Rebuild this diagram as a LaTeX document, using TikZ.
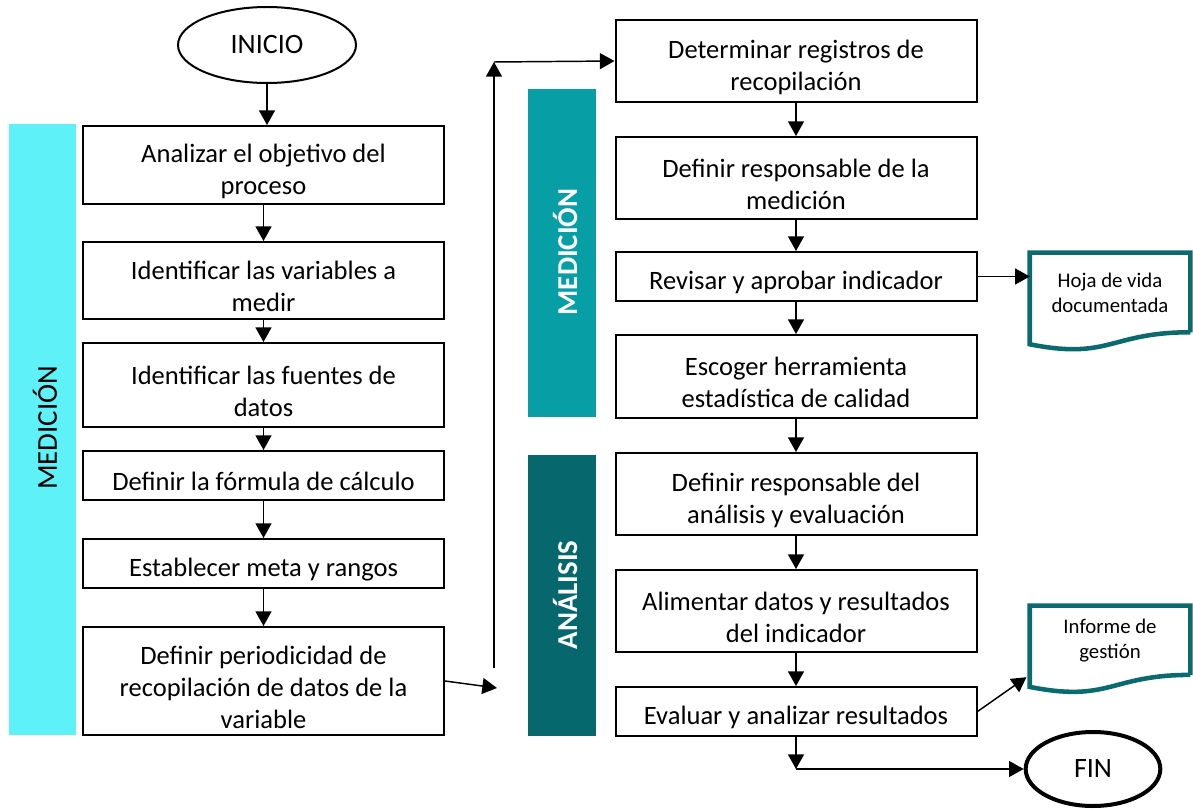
\documentclass[tikz,border=0pt]{standalone}
\usepackage{fontspec}
\setmainfont{Carlito}
\usetikzlibrary{arrows.meta,calc,shapes.geometric}

\definecolor{celeste}{HTML}{5EF2F8}
\definecolor{turquesa}{HTML}{089EA6}
\definecolor{petroleo}{HTML}{06686C}
\definecolor{bordedoc}{HTML}{0A6A6E}

\tikzset{
  paso/.style={draw, line width=1.5pt, inner sep=0pt, minimum width=270.75pt,
    text width=262pt, align=flush center, font=\fontsize{19.9}{24}\selectfont,
    execute at begin node={\rule{0pt}{23pt}}},
  terminal/.style={draw, ellipse, inner sep=0pt, font=\fontsize{21}{25}\selectfont},
  franja/.style={inner sep=0pt, minimum width=51pt},
  etiqueta/.style={rotate=90, inner sep=0pt, font=\fontsize{21.6}{26}\selectfont},
  docu/.style={inner sep=0pt, minimum width=120pt, align=center,
    font=\fontsize{15.6}{18.75}\selectfont},
  docborde/.style={draw=bordedoc, line width=3.4pt},
  flecha/.style={-{Triangle[length=11pt,width=12pt]}, line width=1.1pt},
}

% hoja con borde ondulado abajo
\newcommand{\documento}[1]{%
  \draw[docborde] (#1.south east) -- (#1.north east) -- (#1.north west)
    -- ($(#1.south west)+(0,12)$) .. controls ($(#1.south)+(0,28)$) and (#1.south) .. (#1.south east);}

\begin{document}
\begin{tikzpicture}[x=0.75pt,y=-0.75pt]
  \useasboundingbox (0,0) rectangle (1193,809);
  % Left-hand side: bands
  \node[franja, fill=celeste, minimum width=50.25pt, minimum height=458.25pt] (fmed) at (42.5,429.5) {};
  \node[etiqueta]                      (tmed) at (45,428) {MEDICIÓN};
  \node[franja, fill=turquesa, minimum height=246pt]    (fmed2) at (562,253) {};
  \node[etiqueta, text=white, font=\fontsize{21.6}{26}\selectfont\bfseries] (tmed2) at (565,252) {MEDICIÓN};
  \node[franja, fill=petroleo, minimum height=210.75pt] (fana) at (561.5,595.5) {};
  \node[etiqueta, text=white, font=\fontsize{21.6}{26}\selectfont\bfseries] (tana) at (565,595) {ANÁLISIS};

  % Left column
  \node[terminal, line width=1.5pt, minimum width=133.5pt, minimum height=57pt] (inicio) at (267,45) {INICIO};
  \node[paso, minimum height=58.5pt]  (b1) at (263.5,165)   {Analizar el objetivo del\\proceso};
  \node[paso, minimum height=57.75pt] (b2) at (263.5,280.5) {Identificar las variables a\\medir};
  \node[paso, minimum height=63pt]    (b3) at (263.5,385)   {Identificar las fuentes de\\datos};
  \node[paso, minimum height=36.75pt] (b4) at (263.5,475.5) {Definir la fórmula de cálculo};
  \node[paso, minimum height=36.75pt] (b5) at (263.5,563.5) {Establecer meta y rangos};
  \node[paso, minimum height=81pt]    (b6) at (263.5,681)   {Definir periodicidad de\\recopilación de datos de la\\variable};

  % Right column
  \node[paso, minimum height=61.5pt]  (r1) at (796,61)    {Determinar registros de\\recopilación};
  \node[paso, minimum height=61.5pt]  (r2) at (796,178)   {Definir responsable de la\\medición};
  \node[paso, minimum height=36.75pt] (r3) at (796,276.5) {Revisar y aprobar indicador};
  \node[paso, minimum height=62.25pt] (r4) at (796,376.5) {Escoger herramienta\\estadística de calidad};
  \node[paso, minimum height=61.5pt]  (r5) at (796,494)   {Definir responsable del\\análisis y evaluación};
  \node[paso, minimum height=61.5pt]  (r6) at (796,611)   {Alimentar datos y resultados\\del indicador};
  \node[paso, minimum height=36.75pt] (r7) at (796,711.5) {Evaluar y analizar resultados};

  % Documents and end
  \node[docu, minimum height=59.25pt] (hoja)    at (1110,292.5) {Hoja de vida\\documentada};
  \node[docu, minimum height=51.5pt]  (informe) at (1110,640.3) {Informe de\\gestión};
  \documento{hoja}
  \documento{informe}
  \node[terminal, line width=3pt, minimum width=101pt, minimum height=55.5pt] (fin) at (1093,769) {FIN};

  % Connectors
  \draw[flecha] (inicio.south) -- (inicio.south |- b1.north);
  \foreach \a/\b in {b1/b2,b2/b3,b3/b4,b4/b5,b5/b6,r1/r2,r2/r3,r3/r4,r4/r5,r5/r6,r6/r7}
    \draw[flecha] (\a) -- (\b);
  \coordinate (c1) at (497,688);
  \coordinate (c2) at (494,668);
  \coordinate (c3) at (494,62);
  \draw[flecha] (b6.east) -- (c1);
  \draw[flecha] (c2) -- (c3);
  \draw[flecha] (c3) -- (r1.west);
  \draw[flecha] (r3.east) -- (r3.east -| hoja.west);
  \draw[flecha, shorten >=3pt] (r7.east) -- (informe.south west);
  \draw[flecha] (r7.south) -- (r7.south |- fin.west);
  \draw[flecha] (r7.south |- fin.west) -- (fin.west);
\end{tikzpicture}
\end{document}
